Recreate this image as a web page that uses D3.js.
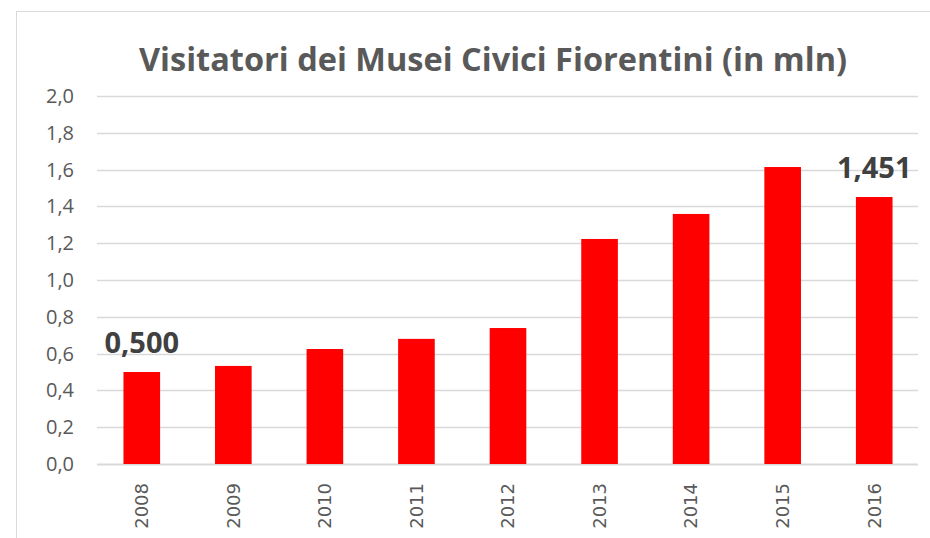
<!DOCTYPE html>
<html>
<head>
<meta charset="utf-8">
<script src="https://cdn.jsdelivr.net/npm/d3@7"></script>
<style>
  body { margin: 0; background: #fff; }
  svg { display: block; }
</style>
</head>
<body>
<svg width="930" height="538"></svg>
<script>
// data
var years = ["2008", "2009", "2010", "2011", "2012", "2013", "2014", "2015", "2016"];
var visitors = [0.500, 0.533, 0.625, 0.680, 0.739, 1.223, 1.359, 1.614, 1.451];
var yTicks = [0, 0.2, 0.4, 0.6, 0.8, 1.0, 1.2, 1.4, 1.6, 1.8, 2.0];
var labelled = ["2008", "2016"];

var svg = d3.select("svg");
var fmt = function (d) { return d3.format(".1f")(d).replace(".", ","); };
var fmt3 = function (d) { return d3.format(".3f")(d).replace(".", ","); };

// chart frame
svg.append("rect")
    .attr("x", 16.5).attr("y", 11.5)
    .attr("width", 940).attr("height", 560)
    .attr("fill", "none")
    .attr("stroke", "#d9d9d9");

var x = d3.scaleBand()
    .domain(years)
    .range([96, 920])
    .paddingInner(0.6)
    .paddingOuter(0.3);

var y = d3.scaleLinear()
    .domain([0, 2])
    .range([464, 96]);

// gridlines
svg.append("g").selectAll("line")
    .data(yTicks)
    .enter().append("line")
    .attr("x1", 97).attr("x2", 918)
    .attr("y1", function (d) { return Math.round(y(d)) + 0.5; })
    .attr("y2", function (d) { return Math.round(y(d)) + 0.5; })
    .attr("stroke", "#d9d9d9")
    .attr("stroke-width", function (d) { return d === 0 ? 2 : 1.3; });

// y axis labels
var yAxis = d3.axisLeft(y).tickValues(yTicks).tickFormat(fmt).tickSize(0).tickPadding(0);
svg.append("g")
    .attr("transform", "translate(74,0)")
    .call(yAxis)
    .call(function (g) { g.select(".domain").remove(); })
    .selectAll("text")
    .attr("font-family", "Open Sans, sans-serif")
    .attr("font-size", 20)
    .attr("fill", "#595959");

// bars
svg.append("g").selectAll("rect")
    .data(years)
    .enter().append("rect")
    .attr("x", function (d) { return x(d); })
    .attr("width", x.bandwidth())
    .attr("y", function (d, i) { return y(visitors[i]); })
    .attr("height", function (d, i) { return y(0) - y(visitors[i]); })
    .attr("fill", "#ff0000");

// x axis labels (rotated)
var xAxis = d3.axisBottom(x).tickSize(0).tickPadding(0);
svg.append("g")
    .attr("transform", "translate(0,464)")
    .call(xAxis)
    .call(function (g) { g.select(".domain").remove(); })
    .selectAll("text")
    .attr("font-family", "DejaVu Sans, sans-serif")
    .attr("font-size", 18)
    .attr("fill", "#595959")
    .attr("text-anchor", "end")
    .attr("transform", "rotate(-90)")
    .attr("x", -19)
    .attr("y", 0)
    .attr("dy", "0.35em");

// data labels
svg.append("g").selectAll("text")
    .data(years.filter(function (d) { return labelled.indexOf(d) >= 0; }))
    .enter().append("text")
    .attr("x", function (d) { return x(d) + x.bandwidth() / 2; })
    .attr("y", function (d) { return y(visitors[years.indexOf(d)]) - 19; })
    .attr("text-anchor", "middle")
    .attr("font-family", "Open Sans, sans-serif")
    .attr("font-weight", "bold")
    .attr("font-size", 29)
    .attr("fill", "#404040")
    .text(function (d) { return fmt3(visitors[years.indexOf(d)]); });

// title
svg.append("text")
    .attr("x", 493)
    .attr("y", 71)
    .attr("text-anchor", "middle")
    .attr("font-family", "Open Sans, sans-serif")
    .attr("font-weight", "bold")
    .attr("font-size", 32.5)
    .attr("fill", "#595959")
    .text("Visitatori dei Musei Civici Fiorentini (in mln)");
</script>
</body>
</html>
